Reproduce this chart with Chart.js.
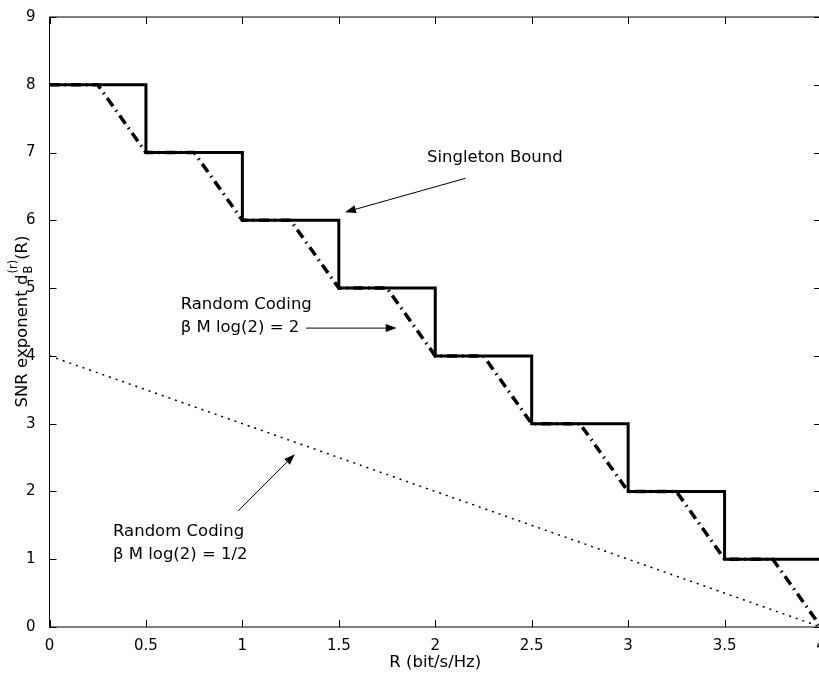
<!DOCTYPE html>
<html>
<head>
<meta charset="utf-8">
<script src="https://cdn.jsdelivr.net/npm/chart.js@4.4.0/dist/chart.umd.min.js"></script>
<style>
    html, body { margin: 0; padding: 0; background: #fff; overflow: hidden; }
</style>
</head>
<body>
<canvas id="snr" width="840" height="673"></canvas>
<script>
// rate points of the singleton bound staircase
const rates = [0, 0.5, 1, 1.5, 2, 2.5, 3, 3.5, 4]
const singleton = [8, 7, 6, 5, 4, 3, 2, 1, 1]

// random coding, beta M log(2) = 2
const rcRates = [0, 0.25, 0.5, 0.75, 1, 1.25, 1.5, 1.75, 2, 2.25, 2.5, 2.75, 3, 3.25, 3.5, 3.75, 4]
const rcTwo = [8, 8, 7, 7, 6, 6, 5, 5, 4, 4, 3, 3, 2, 2, 1, 1, 0]

// random coding, beta M log(2) = 1/2
const halfRates = [0, 4]
const rcHalf = [4, 0]

const xTicks = [0, 0.5, 1, 1.5, 2, 2.5, 3, 3.5, 4]
const yTicks = [0, 1, 2, 3, 4, 5, 6, 7, 8, 9]

const font = 'DejaVu Sans'

// text labels and arrows, in data coordinates
const notes = [
    { lines: ['Singleton Bound'], x: 1.957, y: [6.93], from: [2.157, 6.62], to: [1.532, 6.12] },
    { lines: ['Random Coding', 'β M log(2) = 2'], x: 0.68, y: [4.75, 4.41], from: [1.33, 4.41], to: [1.80, 4.41] },
    { lines: ['Random Coding', 'β M log(2) = 1/2'], x: 0.329, y: [1.40, 1.06], from: [0.977, 1.71], to: [1.272, 2.55] }
]

function toPoints(xs, ys) {
    return xs.map((x, i) => ({ x: x, y: ys[i] }))
}

const framePlugin = {
    id: 'frame',
    afterDatasetsDraw(chart) {
        const ctx = chart.ctx
        const a = chart.chartArea
        const xs = chart.scales.x
        const ys = chart.scales.y
        const len = 7
        ctx.save()
        ctx.strokeStyle = '#000'
        ctx.lineWidth = 1
        ctx.strokeRect(a.left, a.top, a.right - a.left, a.bottom - a.top)
        ctx.beginPath()
        xTicks.forEach(v => {
            const px = Math.round(xs.getPixelForValue(v)) + 0.5
            ctx.moveTo(px, a.bottom); ctx.lineTo(px, a.bottom - len)
            ctx.moveTo(px, a.top); ctx.lineTo(px, a.top + len)
        })
        yTicks.forEach(v => {
            const py = Math.round(ys.getPixelForValue(v)) + 0.5
            ctx.moveTo(a.left, py); ctx.lineTo(a.left + len, py)
            ctx.moveTo(a.right, py); ctx.lineTo(a.right - len, py)
        })
        ctx.stroke()

        // annotations
        ctx.fillStyle = '#000'
        ctx.font = '16.5px "' + font + '"'
        ctx.textBaseline = 'middle'
        ctx.textAlign = 'left'
        notes.forEach(n => {
            n.lines.forEach((t, i) => {
                ctx.fillText(t, xs.getPixelForValue(n.x), ys.getPixelForValue(n.y[i]))
            })
            const x0 = xs.getPixelForValue(n.from[0]), y0 = ys.getPixelForValue(n.from[1])
            const x1 = xs.getPixelForValue(n.to[0]), y1 = ys.getPixelForValue(n.to[1])
            const ang = Math.atan2(y1 - y0, x1 - x0)
            const hl = 11, hw = 4
            ctx.beginPath()
            ctx.moveTo(x0, y0)
            ctx.lineTo(x1 - hl * Math.cos(ang), y1 - hl * Math.sin(ang))
            ctx.stroke()
            ctx.beginPath()
            ctx.moveTo(x1, y1)
            ctx.lineTo(x1 - hl * Math.cos(ang) - hw * Math.sin(ang), y1 - hl * Math.sin(ang) + hw * Math.cos(ang))
            ctx.lineTo(x1 - hl * Math.cos(ang) + hw * Math.sin(ang), y1 - hl * Math.sin(ang) - hw * Math.cos(ang))
            ctx.closePath()
            ctx.fill()
        })

        // y axis title with sub/superscript
        const big = '16.5px "' + font + '"', small = '11.5px "' + font + '"'
        ctx.font = big
        const w1 = ctx.measureText('SNR exponent d').width
        const w3 = ctx.measureText('(R)').width
        ctx.font = small
        const w2 = Math.max(ctx.measureText('B').width, ctx.measureText('(r)').width)
        const total = w1 + w2 + w3
        ctx.translate(27, (a.top + a.bottom) / 2)
        ctx.rotate(-Math.PI / 2)
        ctx.textBaseline = 'alphabetic'
        ctx.font = big
        ctx.fillText('SNR exponent d', -total / 2, 0)
        ctx.fillText('(R)', -total / 2 + w1 + w2 + 1, 0)
        ctx.font = small
        ctx.fillText('B', -total / 2 + w1 + 1, 5)
        ctx.fillText('(r)', -total / 2 + w1 + 1, -10)
        ctx.restore()
    }
}

new Chart(document.getElementById('snr'), {
    type: 'line',
    data: {
        datasets: [
            {
                data: toPoints(halfRates, rcHalf),
                borderColor: '#000',
                borderWidth: 1.5,
                borderDash: [2, 5],
                pointRadius: 0,
                order: 3
            },
            {
                data: toPoints(rcRates, rcTwo),
                borderColor: '#000',
                borderWidth: 3.5,
                borderDash: [10, 5, 1.5, 5],
                pointRadius: 0,
                order: 2
            },
            {
                data: toPoints(rates, singleton),
                borderColor: '#000',
                borderWidth: 3,
                stepped: 'before',
                pointRadius: 0,
                order: 1
            }
        ]
    },
    options: {
        responsive: false,
        animation: false,
        devicePixelRatio: 1,
        layout: { padding: { left: 0, right: 19, top: 17, bottom: 0 } },
        plugins: {
            legend: { display: false },
            tooltip: { enabled: false }
        },
        scales: {
            x: {
                type: 'linear',
                min: 0,
                max: 4,
                afterBuildTicks: s => { s.ticks = xTicks.map(v => ({ value: v })) },
                afterFit: s => { s.height = 46 },
                grid: { display: false },
                border: { display: false },
                ticks: { color: '#000', font: { family: font, size: 15 }, padding: 2, maxRotation: 0, callback: v => String(v) },
                title: { display: true, text: 'R (bit/s/Hz)', color: '#000', font: { family: font, size: 16.5 }, padding: { top: -2, bottom: 0 } }
            },
            y: {
                type: 'linear',
                min: 0,
                max: 9,
                afterBuildTicks: s => { s.ticks = yTicks.map(v => ({ value: v })) },
                afterFit: s => { s.width = 49.5 },
                grid: { display: false },
                border: { display: false },
                ticks: { color: '#000', font: { family: font, size: 15 }, padding: 6, callback: v => String(v) }
            }
        }
    },
    plugins: [framePlugin]
})
</script>
</body>
</html>
